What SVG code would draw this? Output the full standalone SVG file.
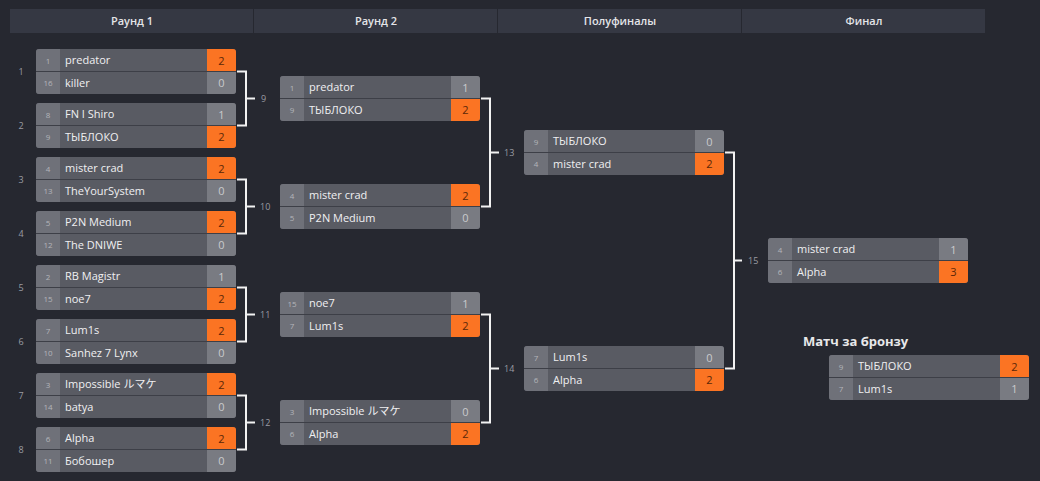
<svg xmlns="http://www.w3.org/2000/svg" width="1040" height="481" viewBox="0 0 1040 481">
<style>
.bg{fill:#262830}
.hd{fill:#353843}
.hdt{font-family:"Open Sans","Noto Sans CJK JP",sans-serif;font-size:11px;font-weight:600;fill:#e4e5e8;text-anchor:middle}
.seed{fill:#6f7179}
.name{fill:#595b63}
.sc{fill:#797b82}
.win{fill:#fb7423}
.div{stroke:#3d3f47;stroke-width:1}
.st{font-family:"Open Sans","Noto Sans CJK JP",sans-serif;font-size:8px;fill:#b4b5ba;text-anchor:middle}
.nt{font-family:"Open Sans","Noto Sans CJK JP",sans-serif;font-size:11px;fill:#f0f0f2}
.ss{font-family:"Open Sans",sans-serif;font-size:11px;fill:#c9cacd;text-anchor:middle}
.sw{font-family:"Open Sans",sans-serif;font-size:11px;fill:#5a2708;text-anchor:middle}
.lbl{font-family:"Open Sans",sans-serif;font-size:9px;fill:#9a9ca3}
.con{fill:none;stroke:#f2f2f2;stroke-width:2}
.title{font-family:"Open Sans",sans-serif;font-size:13px;font-weight:700;fill:#e8e8ea}
</style>
<defs>
<clipPath id="mc"><rect x="0" y="0" width="200" height="45" rx="3"/></clipPath>
</defs>
<rect class="bg" x="0" y="0" width="1040" height="481"/>
<g id="header">
<rect class="hd" x="10" y="9" width="975" height="24"/>
<line x1="253.5" y1="9" x2="253.5" y2="33" stroke="#262830"/>
<line x1="497.5" y1="9" x2="497.5" y2="33" stroke="#262830"/>
<line x1="741.5" y1="9" x2="741.5" y2="33" stroke="#262830"/>
<text class="hdt" x="132" y="25">Раунд 1</text>
<text class="hdt" x="376" y="25">Раунд 2</text>
<text class="hdt" x="620" y="25">Полуфиналы</text>
<text class="hdt" x="864" y="25">Финал</text>
</g>
<g id="match-labels">
<text class="lbl" x="21" y="75" text-anchor="middle">1</text>
<text class="lbl" x="21" y="129" text-anchor="middle">2</text>
<text class="lbl" x="21" y="183" text-anchor="middle">3</text>
<text class="lbl" x="21" y="237" text-anchor="middle">4</text>
<text class="lbl" x="21" y="291" text-anchor="middle">5</text>
<text class="lbl" x="21" y="345" text-anchor="middle">6</text>
<text class="lbl" x="21" y="399" text-anchor="middle">7</text>
<text class="lbl" x="21" y="453" text-anchor="middle">8</text>
</g>
<g id="connectors">
<path class="con" d="M237 71.5H246V125.5H237M246 98.5H255"/>
<path class="con" d="M237 179.5H246V233.5H237M246 206.5H255"/>
<path class="con" d="M237 287.5H246V341.5H237M246 314.5H255"/>
<path class="con" d="M237 395.5H246V449.5H237M246 422.5H255"/>
<path class="con" d="M481 98.5H490V206.5H481M490 152.5H499"/>
<path class="con" d="M481 314.5H490V422.5H481M490 368.5H499"/>
<path class="con" d="M725 152.5H734V368.5H725M734 260.5H742"/>
<text class="lbl" x="261" y="102">9</text>
<text class="lbl" x="260" y="210">10</text>
<text class="lbl" x="260" y="318">11</text>
<text class="lbl" x="260" y="426">12</text>
<text class="lbl" x="504" y="156">13</text>
<text class="lbl" x="504" y="372">14</text>
<text class="lbl" x="748" y="264">15</text>
</g>
<g id="m1" transform="translate(36,49)"><g clip-path="url(#mc)">
<rect class="name" width="200" height="45"/><rect class="seed" width="24" height="45"/><rect class="win" x="171" width="29" height="22.5"/><rect class="sc" x="171" y="22.5" width="29" height="22.5"/><line class="div" x1="0" y1="22.5" x2="200" y2="22.5"/></g>
<text class="st" x="12" y="14.5">1</text><text class="nt" x="29" y="15">predator</text><text class="sw" x="185.5" y="15.5">2</text>
<text class="st" x="12" y="37">16</text><text class="nt" x="29" y="37.5">killer</text><text class="ss" x="185.5" y="38">0</text></g>
<g id="m2" transform="translate(36,103)"><g clip-path="url(#mc)">
<rect class="name" width="200" height="45"/><rect class="seed" width="24" height="45"/><rect class="sc" x="171" width="29" height="22.5"/><rect class="win" x="171" y="22.5" width="29" height="22.5"/><line class="div" x1="0" y1="22.5" x2="200" y2="22.5"/></g>
<text class="st" x="12" y="14.5">8</text><text class="nt" x="29" y="15">FN I Shiro</text><text class="ss" x="185.5" y="15.5">1</text>
<text class="st" x="12" y="37">9</text><text class="nt" x="29" y="37.5">ТЫБЛОКО</text><text class="sw" x="185.5" y="38">2</text></g>
<g id="m3" transform="translate(36,157)"><g clip-path="url(#mc)">
<rect class="name" width="200" height="45"/><rect class="seed" width="24" height="45"/><rect class="win" x="171" width="29" height="22.5"/><rect class="sc" x="171" y="22.5" width="29" height="22.5"/><line class="div" x1="0" y1="22.5" x2="200" y2="22.5"/></g>
<text class="st" x="12" y="14.5">4</text><text class="nt" x="29" y="15">mister crad</text><text class="sw" x="185.5" y="15.5">2</text>
<text class="st" x="12" y="37">13</text><text class="nt" x="29" y="37.5">TheYourSystem</text><text class="ss" x="185.5" y="38">0</text></g>
<g id="m4" transform="translate(36,211)"><g clip-path="url(#mc)">
<rect class="name" width="200" height="45"/><rect class="seed" width="24" height="45"/><rect class="win" x="171" width="29" height="22.5"/><rect class="sc" x="171" y="22.5" width="29" height="22.5"/><line class="div" x1="0" y1="22.5" x2="200" y2="22.5"/></g>
<text class="st" x="12" y="14.5">5</text><text class="nt" x="29" y="15">P2N Medium</text><text class="sw" x="185.5" y="15.5">2</text>
<text class="st" x="12" y="37">12</text><text class="nt" x="29" y="37.5">The DNIWE</text><text class="ss" x="185.5" y="38">0</text></g>
<g id="m5" transform="translate(36,265)"><g clip-path="url(#mc)">
<rect class="name" width="200" height="45"/><rect class="seed" width="24" height="45"/><rect class="sc" x="171" width="29" height="22.5"/><rect class="win" x="171" y="22.5" width="29" height="22.5"/><line class="div" x1="0" y1="22.5" x2="200" y2="22.5"/></g>
<text class="st" x="12" y="14.5">2</text><text class="nt" x="29" y="15">RB Magistr</text><text class="ss" x="185.5" y="15.5">1</text>
<text class="st" x="12" y="37">15</text><text class="nt" x="29" y="37.5">noe7</text><text class="sw" x="185.5" y="38">2</text></g>
<g id="m6" transform="translate(36,319)"><g clip-path="url(#mc)">
<rect class="name" width="200" height="45"/><rect class="seed" width="24" height="45"/><rect class="win" x="171" width="29" height="22.5"/><rect class="sc" x="171" y="22.5" width="29" height="22.5"/><line class="div" x1="0" y1="22.5" x2="200" y2="22.5"/></g>
<text class="st" x="12" y="14.5">7</text><text class="nt" x="29" y="15">Lum1s</text><text class="sw" x="185.5" y="15.5">2</text>
<text class="st" x="12" y="37">10</text><text class="nt" x="29" y="37.5">Sanhez 7 Lynx</text><text class="ss" x="185.5" y="38">0</text></g>
<g id="m7" transform="translate(36,373)"><g clip-path="url(#mc)">
<rect class="name" width="200" height="45"/><rect class="seed" width="24" height="45"/><rect class="win" x="171" width="29" height="22.5"/><rect class="sc" x="171" y="22.5" width="29" height="22.5"/><line class="div" x1="0" y1="22.5" x2="200" y2="22.5"/></g>
<text class="st" x="12" y="14.5">3</text><text class="nt" x="29" y="15">Impossible ルマケ</text><text class="sw" x="185.5" y="15.5">2</text>
<text class="st" x="12" y="37">14</text><text class="nt" x="29" y="37.5">batya</text><text class="ss" x="185.5" y="38">0</text></g>
<g id="m8" transform="translate(36,427)"><g clip-path="url(#mc)">
<rect class="name" width="200" height="45"/><rect class="seed" width="24" height="45"/><rect class="win" x="171" width="29" height="22.5"/><rect class="sc" x="171" y="22.5" width="29" height="22.5"/><line class="div" x1="0" y1="22.5" x2="200" y2="22.5"/></g>
<text class="st" x="12" y="14.5">6</text><text class="nt" x="29" y="15">Alpha</text><text class="sw" x="185.5" y="15.5">2</text>
<text class="st" x="12" y="37">11</text><text class="nt" x="29" y="37.5">Бобошер</text><text class="ss" x="185.5" y="38">0</text></g>
<g id="m9" transform="translate(280,76)"><g clip-path="url(#mc)">
<rect class="name" width="200" height="45"/><rect class="seed" width="24" height="45"/><rect class="sc" x="171" width="29" height="22.5"/><rect class="win" x="171" y="22.5" width="29" height="22.5"/><line class="div" x1="0" y1="22.5" x2="200" y2="22.5"/></g>
<text class="st" x="12" y="14.5">1</text><text class="nt" x="29" y="15">predator</text><text class="ss" x="185.5" y="15.5">1</text>
<text class="st" x="12" y="37">9</text><text class="nt" x="29" y="37.5">ТЫБЛОКО</text><text class="sw" x="185.5" y="38">2</text></g>
<g id="m10" transform="translate(280,184)"><g clip-path="url(#mc)">
<rect class="name" width="200" height="45"/><rect class="seed" width="24" height="45"/><rect class="win" x="171" width="29" height="22.5"/><rect class="sc" x="171" y="22.5" width="29" height="22.5"/><line class="div" x1="0" y1="22.5" x2="200" y2="22.5"/></g>
<text class="st" x="12" y="14.5">4</text><text class="nt" x="29" y="15">mister crad</text><text class="sw" x="185.5" y="15.5">2</text>
<text class="st" x="12" y="37">5</text><text class="nt" x="29" y="37.5">P2N Medium</text><text class="ss" x="185.5" y="38">0</text></g>
<g id="m11" transform="translate(280,292)"><g clip-path="url(#mc)">
<rect class="name" width="200" height="45"/><rect class="seed" width="24" height="45"/><rect class="sc" x="171" width="29" height="22.5"/><rect class="win" x="171" y="22.5" width="29" height="22.5"/><line class="div" x1="0" y1="22.5" x2="200" y2="22.5"/></g>
<text class="st" x="12" y="14.5">15</text><text class="nt" x="29" y="15">noe7</text><text class="ss" x="185.5" y="15.5">1</text>
<text class="st" x="12" y="37">7</text><text class="nt" x="29" y="37.5">Lum1s</text><text class="sw" x="185.5" y="38">2</text></g>
<g id="m12" transform="translate(280,400)"><g clip-path="url(#mc)">
<rect class="name" width="200" height="45"/><rect class="seed" width="24" height="45"/><rect class="sc" x="171" width="29" height="22.5"/><rect class="win" x="171" y="22.5" width="29" height="22.5"/><line class="div" x1="0" y1="22.5" x2="200" y2="22.5"/></g>
<text class="st" x="12" y="14.5">3</text><text class="nt" x="29" y="15">Impossible ルマケ</text><text class="ss" x="185.5" y="15.5">0</text>
<text class="st" x="12" y="37">6</text><text class="nt" x="29" y="37.5">Alpha</text><text class="sw" x="185.5" y="38">2</text></g>
<g id="m13" transform="translate(524,130)"><g clip-path="url(#mc)">
<rect class="name" width="200" height="45"/><rect class="seed" width="24" height="45"/><rect class="sc" x="171" width="29" height="22.5"/><rect class="win" x="171" y="22.5" width="29" height="22.5"/><line class="div" x1="0" y1="22.5" x2="200" y2="22.5"/></g>
<text class="st" x="12" y="14.5">9</text><text class="nt" x="29" y="15">ТЫБЛОКО</text><text class="ss" x="185.5" y="15.5">0</text>
<text class="st" x="12" y="37">4</text><text class="nt" x="29" y="37.5">mister crad</text><text class="sw" x="185.5" y="38">2</text></g>
<g id="m14" transform="translate(524,346)"><g clip-path="url(#mc)">
<rect class="name" width="200" height="45"/><rect class="seed" width="24" height="45"/><rect class="sc" x="171" width="29" height="22.5"/><rect class="win" x="171" y="22.5" width="29" height="22.5"/><line class="div" x1="0" y1="22.5" x2="200" y2="22.5"/></g>
<text class="st" x="12" y="14.5">7</text><text class="nt" x="29" y="15">Lum1s</text><text class="ss" x="185.5" y="15.5">0</text>
<text class="st" x="12" y="37">6</text><text class="nt" x="29" y="37.5">Alpha</text><text class="sw" x="185.5" y="38">2</text></g>
<g id="m15" transform="translate(768,238)"><g clip-path="url(#mc)">
<rect class="name" width="200" height="45"/><rect class="seed" width="24" height="45"/><rect class="sc" x="171" width="29" height="22.5"/><rect class="win" x="171" y="22.5" width="29" height="22.5"/><line class="div" x1="0" y1="22.5" x2="200" y2="22.5"/></g>
<text class="st" x="12" y="14.5">4</text><text class="nt" x="29" y="15">mister crad</text><text class="ss" x="185.5" y="15.5">1</text>
<text class="st" x="12" y="37">6</text><text class="nt" x="29" y="37.5">Alpha</text><text class="sw" x="185.5" y="38">3</text></g>
<g id="bronze">
<text class="title" x="803" y="346">Матч за бронзу</text>
<g transform="translate(829,355)"><g clip-path="url(#mc)">
<rect class="name" width="200" height="45"/><rect class="seed" width="24" height="45"/><rect class="win" x="171" width="29" height="22.5"/><rect class="sc" x="171" y="22.5" width="29" height="22.5"/><line class="div" x1="0" y1="22.5" x2="200" y2="22.5"/></g>
<text class="st" x="12" y="14.5">9</text><text class="nt" x="29" y="15">ТЫБЛОКО</text><text class="sw" x="185.5" y="15.5">2</text>
<text class="st" x="12" y="37">7</text><text class="nt" x="29" y="37.5">Lum1s</text><text class="ss" x="185.5" y="38">1</text></g>
</g>
</svg>
